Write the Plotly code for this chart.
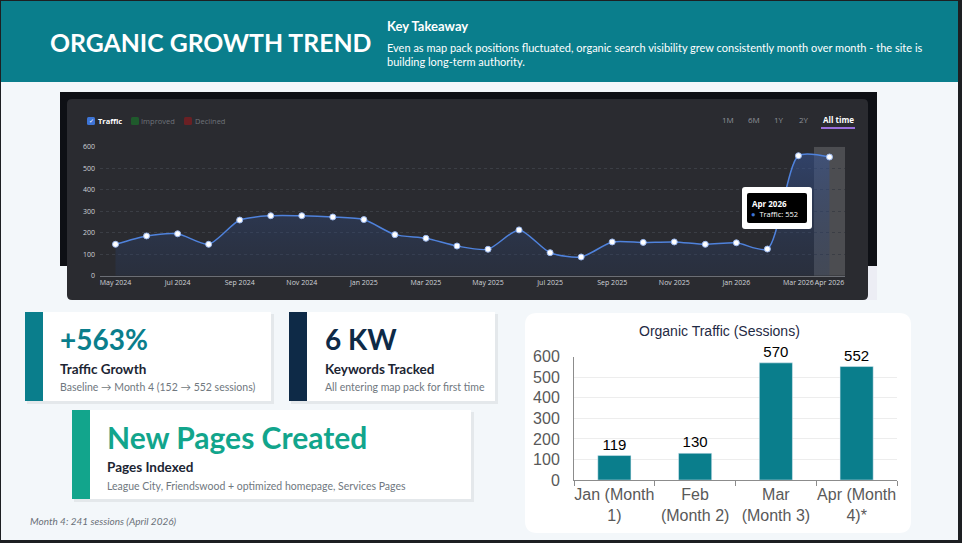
import plotly.graph_objects as go

W, H = 962, 543

# ---- data ----
months = ["May 2024", "Jun 2024", "Jul 2024", "Aug 2024", "Sep 2024", "Oct 2024",
          "Nov 2024", "Dec 2024", "Jan 2025", "Feb 2025", "Mar 2025", "Apr 2025",
          "May 2025", "Jun 2025", "Jul 2025", "Aug 2025", "Sep 2025", "Oct 2025",
          "Nov 2025", "Dec 2025", "Jan 2026", "Feb 2026", "Mar 2026", "Apr 2026"]
traffic = [146, 185, 195, 146, 259, 279, 279, 273, 261, 191, 174, 138,
           123, 213, 107, 87, 157, 155, 157, 146, 153, 124, 558, 552]

bar_labels = ["Jan (Month<br>1)", "Feb<br>(Month 2)", "Mar<br>(Month 3)", "Apr (Month<br>4)*"]
bar_values = [119, 130, 570, 552]

range_buttons = ["1M", "6M", "1Y", "2Y"]

# ---- helpers (pixel -> paper) ----
def X(p):
    return p / W

def Y(p):
    return 1 - p / H

def rect(x0, y0, x1, y1, color, layer="below"):
    return dict(type="rect", xref="paper", yref="paper", x0=X(x0), x1=X(x1),
                y0=Y(y1), y1=Y(y0), fillcolor=color, line_width=0, layer=layer)

def rrect(x0, y0, x1, y1, r, color, layer="below"):
    rx, ry = r / W, r / H
    a, b, c, d = X(x0), Y(y1), X(x1), Y(y0)
    path = (f"M {a+rx},{b} L {c-rx},{b} Q {c},{b} {c},{b+ry} L {c},{d-ry} "
            f"Q {c},{d} {c-rx},{d} L {a+rx},{d} Q {a},{d} {a},{d-ry} "
            f"L {a},{b+ry} Q {a},{b} {a+rx},{b} Z")
    return dict(type="path", xref="paper", yref="paper", path=path,
                fillcolor=color, line_width=0, layer=layer)

annots = []
def txt(x, y, s, size, color, family="Lato", anchor="left", **kw):
    if anchor == "left":
        x -= 2  # annotation box padding
    annots.append(dict(x=X(x), y=Y(y), xref="paper", yref="paper", text=s,
                       showarrow=False, xanchor=anchor, yanchor="middle",
                       font=dict(size=size, color=color, family=family), **kw))

TEAL = "#0a7e8c"
shapes = []

# slide background + header
shapes.append(rect(0, 0, W, H, "#1d1f22"))
shapes.append(rect(1, 1, 958, 540, "#f3f7fa"))
shapes.append(rect(1, 1, 958, 82, TEAL))

# dark screenshot panel
shapes.append(rect(60, 92, 877, 266, "#0e1015"))
shapes.append(rect(860, 266, 877, 300, "#ecedf4"))
shapes.append(rrect(67, 99, 868, 300, 5, "#2a2b30"))
# highlight for hovered month
shapes.append(dict(type="rect", xref="x", yref="y", x0=22.5, x1=23.5, y0=0, y1=600,
                   fillcolor="rgba(255,255,255,0.16)", line_width=0, layer="below"))

# legend boxes in panel
shapes.append(rrect(87, 117, 95, 125, 1.5, "#3d74d6", layer="above"))
shapes.append(rrect(131, 117, 139, 125, 1.5, "#1f5a2c", layer="above"))
shapes.append(rrect(184, 117, 192, 125, 1.5, "#6a2024", layer="above"))
shapes.append(rect(821, 127, 855, 129, "#9a6fdc", layer="above"))

# tooltip
shapes.append(rrect(742, 187, 812, 229, 3, "#ffffff", layer="above"))
shapes.append(rrect(747, 193, 807, 223, 2, "#000000", layer="above"))

# stat cards
for x0, y0, x1, y1, bar in [(25, 312, 271, 401, TEAL), (289, 312, 495, 401, "#0e2a47"),
                            (72, 410, 471, 499, "#12a58c")]:
    shapes.append(rect(x0 + 2, y0 + 2, x1 + 3, y1 + 3, "rgba(0,0,0,0.06)"))
    shapes.append(rect(x0, y0, x1, y1, "#ffffff"))
    shapes.append(rect(x0, y0, x0 + 18, y1, bar))

# bar chart card
shapes.append(rrect(525, 313, 911, 533, 12, "#ffffff"))

# ---- texts ----
txt(50, 42, "<b>ORGANIC GROWTH TREND</b>", 24.8, "#ffffff")
txt(387, 26, "<b>Key Takeaway</b>", 13, "#ffffff")
txt(387, 47, "Even as map pack positions fluctuated, organic search visibility grew "
             "consistently month over month - the site is", 11, "#ffffff")
txt(387, 61, "building long-term authority.", 11, "#ffffff")

txt(91, 121, "✓", 6, "#ffffff", family="DejaVu Sans", anchor="center")
txt(98, 121, "<b>Traffic</b>", 7.5, "#ffffff", family="Open Sans")
txt(141, 121, "Improved", 7.5, "#6f737a", family="Open Sans")
txt(195, 121, "Declined", 7.5, "#6f737a", family="Open Sans")
for bx, lab in zip([728, 754, 779, 804], range_buttons):
    txt(bx, 119, lab, 8, "#8e9198", family="Open Sans", anchor="center")
txt(838, 119, "<b>All time</b>", 8, "#ffffff", family="Open Sans", anchor="center")

txt(752, 203, f"<b>{months[-1]}</b>", 8, "#ffffff", family="Open Sans")
txt(751, 214, f"<span style='color:#3d74d6'>●</span>  Traffic: {traffic[-1]}", 7.5,
    "#ffffff", family="Open Sans")

txt(60, 339, "<b>+563%</b>", 28, TEAL)
txt(60, 369, "<b>Traffic Growth</b>", 13.5, "#1c2533")
txt(60, 387, "Baseline → Month 4 (152 → 552 sessions)", 10.5, "#707880")
txt(325, 339, "<b>6 KW</b>", 28, "#0e2a47")
txt(325, 369, "<b>Keywords Tracked</b>", 13.5, "#1c2533")
txt(325, 387, "All entering map pack for first time", 10.5, "#707880")
txt(107, 437, "<b>New Pages Created</b>", 30, "#12a58c")
txt(107, 467, "<b>Pages Indexed</b>", 13.5, "#1c2533")
txt(107, 486, "League City, Friendswood + optimized homepage, Services Pages", 10.5, "#707880")
txt(30, 521, "<i>Month 4: 241 sessions (April 2026)</i>", 10, "#6a7078")

txt(719, 331, "Organic Traffic (Sessions)", 14, "#1f2a44", family="Liberation Sans",
    anchor="center")

# ---- traces ----
fig = go.Figure()
fig.add_trace(go.Scatter(
    x=months, y=traffic, mode="lines+markers", line_shape="spline",
    line=dict(color="#4f82dc", width=1.5, smoothing=0.7),
    marker=dict(size=6, color="#ffffff", line=dict(color="#9bb8ee", width=1)),
    fill="tozeroy",
    fillgradient=dict(type="vertical",
                      colorscale=[[0, "rgba(40,60,100,0.25)"], [1, "rgba(55,85,150,0.55)"]]),
    cliponaxis=False, hoverinfo="skip", xaxis="x", yaxis="y"))

fig.add_trace(go.Bar(
    x=bar_labels, y=bar_values, marker_color=TEAL, text=bar_values,
    textposition="outside", textfont=dict(size=15, color="#000000", family="Liberation Sans"),
    cliponaxis=False, xaxis="x2", yaxis="y2", width=0.41))

tick_idx = list(range(0, len(months), 2)) + [len(months) - 1]
fig.update_layout(
    width=W, height=H, margin=dict(l=0, r=0, t=0, b=0, autoexpand=False),
    paper_bgcolor="#f3f7fa", plot_bgcolor="rgba(0,0,0,0)", showlegend=False,
    shapes=shapes, annotations=annots,
    xaxis=dict(domain=[X(100), X(845)], range=[-0.5, 23.5], type="category",
               tickvals=[months[i] for i in tick_idx], ticktext=[months[i] for i in tick_idx],
               tickfont=dict(size=7, color="#d0d3d8", family="Open Sans"), tickangle=0,
               showgrid=False, showline=True, linecolor="#6b6e75", linewidth=1,
               ticks="", ticklabelstandoff=0, fixedrange=True, automargin=False),
    yaxis=dict(domain=[Y(275.7), Y(146.7)], range=[0, 600], tickvals=[0, 100, 200, 300, 400, 500, 600],
               tickfont=dict(size=7, color="#d0d3d8", family="Open Sans"),
               showgrid=True, gridcolor="#3b3e45", griddash="dot", gridwidth=1,
               zeroline=False, showline=False, ticklabelstandoff=4, fixedrange=True,
               automargin=False),
    xaxis2=dict(domain=[X(574), X(897)], tickfont=dict(size=16, color="#595959", family="Liberation Sans"),
                tickangle=0, showline=True, linecolor="#8c8c8c", linewidth=1, ticks="outside",
                tickson="boundaries", ticklen=5, tickcolor="#8c8c8c", showgrid=False,
                anchor="y2", fixedrange=True, automargin=False),
    yaxis2=dict(domain=[Y(480), Y(356.7)], range=[0, 600], dtick=100,
                tickfont=dict(size=16, color="#595959", family="Liberation Sans"),
                showline=True, linecolor="#8c8c8c", linewidth=1, showgrid=True,
                gridcolor="#ededed", zeroline=False, ticklabelstandoff=10, anchor="x2",
                fixedrange=True, automargin=False),
)

fig.write_html("out.html", config={"displayModeBar": False},
               post_script="document.body.style.margin='0';")
